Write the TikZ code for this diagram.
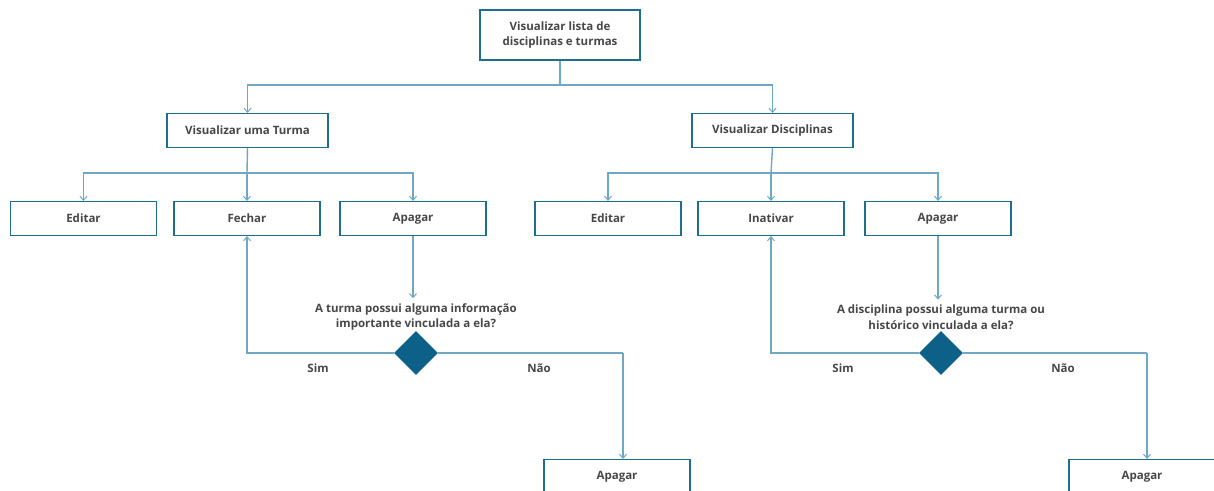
\documentclass[tikz,border=0pt]{standalone}
\usepackage{fontspec}
\newfontfamily\boxfont{Open Sans}
\usetikzlibrary{arrows.meta,shapes.geometric}
\definecolor{boxc}{HTML}{1E6F8E}
\definecolor{linec}{HTML}{6FA8C2}
\definecolor{diac}{HTML}{0D6189}
\definecolor{txt}{HTML}{474747}
\begin{document}
\begin{tikzpicture}[x=1pt,y=-1pt,
  every node/.style={text=txt, font=\boxfont\bfseries\fontsize{11.5}{15.5}\selectfont},
  box/.style={draw=boxc, line width=1.1pt, fill=white, minimum width=146pt,
    minimum height=34pt, inner sep=0pt},
  wide/.style={box, minimum width=161pt},
  diam/.style={diamond, fill=diac, minimum width=44pt, minimum height=44pt, inner sep=0pt},
  conn/.style={draw=linec, line width=1.4pt},
  arr/.style={conn, -{Straight Barb[length=4pt,width=7pt,line width=1pt]}},
  lbl/.style={inner sep=0pt}]
\useasboundingbox (0,0) rectangle (1214,490);

% top level
\node[box, minimum width=160pt, minimum height=50pt, align=center] (root) at (560,35)
  {Visualizar lista de\\disciplinas e turmas};

% second level
\node[wide] (turma) at (247.5,130.5) {Visualizar uma Turma};
\node[wide] (disc) at (772.5,130.5) {Visualizar Disciplinas};

% leaves under the class view
\node[box] (tedit) at (83.5,218.5) {Editar};
\node[box] (tfechar) at (247,218.5) {Fechar};
\node[box] (tapagar) at (413,218.5) {Apagar};

% leaves under the subject view
\node[box] (dedit) at (608,218.5) {Editar};
\node[box] (dinat) at (771,218.5) {Inativar};
\node[box] (dapagar) at (938,218.5) {Apagar};

% questions and decisions
\node[align=center, lbl] (q1) at (416,317) {A turma possui alguma informação\\importante vinculada a ela?};
\node[diam] (d1) at (416,353) {};
\node[align=center, lbl] (q2) at (941,317) {A disciplina possui alguma turma ou\\histórico vinculada a ela?};
\node[diam] (d2) at (941,353) {};

% final delete boxes
\node[box] (tfim) at (617,476.5) {Apagar};
\node[box] (dfim) at (1142,476.5) {Apagar};

\node[lbl] (s1) at (318,368) {Sim};
\node[lbl] (n1) at (539,368) {Não};
\node[lbl] (s2) at (843,368) {Sim};
\node[lbl] (n2) at (1063,368) {Não};

% junction points
\coordinate (j0) at (560,85);
\coordinate (j1) at (247,173);
\coordinate (j2) at (771,173);
\coordinate (k1) at (623,353);
\coordinate (k2) at (1147,353);

% connectors
\draw[conn] (root.south) -- (j0);
\draw[arr] (j0) -| (turma.north);
\draw[arr] (j0) -| (disc.north);

\draw[conn] (turma.south) -- (j1);
\draw[arr] (j1) -| (tedit.north);
\draw[arr] (j1) -- (tfechar.north);
\draw[arr] (j1) -| (tapagar.north);

\draw[conn] (disc.south) -- (j2);
\draw[arr] (j2) -| (dedit.north);
\draw[arr] (j2) -- (dinat.north);
\draw[arr] (j2) -| (dapagar.north);

\draw[arr] (tapagar.south) -- ([yshift=5pt]tapagar.south |- q1.north);
\draw[arr] (dapagar.south) -- ([yshift=5pt]dapagar.south |- q2.north);

\draw[arr] (d1.west) -| (tfechar.south);
\draw[conn] (d1.east) -- (k1);
\draw[arr] (k1) -- (k1 |- tfim.north);

\draw[arr] (d2.west) -| (dinat.south);
\draw[conn] (d2.east) -- (k2);
\draw[arr] (k2) -- (k2 |- dfim.north);
\end{tikzpicture}
\end{document}
